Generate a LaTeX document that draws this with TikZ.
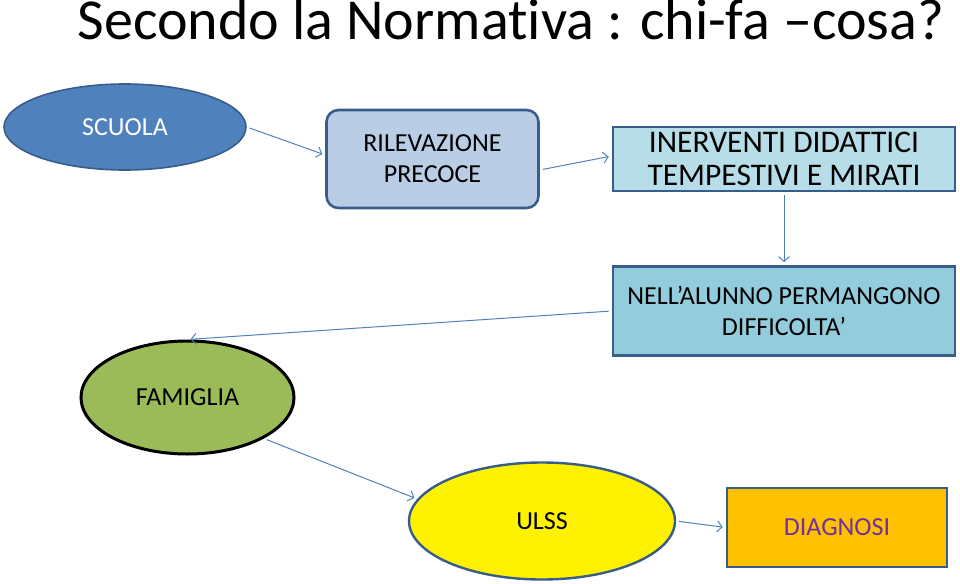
\documentclass[tikz,border=0pt]{standalone}
\usepackage{fontspec}
\setmainfont{Carlito}[Ligatures=NoCommon]
\usetikzlibrary{positioning,shapes,arrows.meta}
\definecolor{nf_dark}{HTML}{385D8A}
\definecolor{nf_blue}{HTML}{4F81BD}
\definecolor{nf_pale}{HTML}{B9CDE5}
\definecolor{nf_aqua}{HTML}{B7DEE8}
\definecolor{nf_teal}{HTML}{93CDDD}
\definecolor{nf_green}{HTML}{9BBB59}
\definecolor{nf_orange}{HTML}{FFC000}
\definecolor{nf_purple}{HTML}{7030A0}
\tikzset{
	nf_base/.style={font=\fontsize{26}{31}\selectfont, align=center, inner sep=0pt, on grid},
	nf_oval/.style={nf_base, draw=nf_dark, ellipse, line width=2.4pt},
	nf_box/.style={nf_base, draw=nf_dark, rectangle, line width=2.6pt},
	nf_line/.style={draw=nf_blue, line width=1pt, -{Straight Barb[length=5pt,width=11pt]}, shorten >=3pt, shorten <=3pt},
	nf_title/.style={font=\fontsize{58}{62}\selectfont}
}
\begin{document}
\begin{tikzpicture}[x=1pt, y=-1pt]
	\useasboundingbox (0,0) rectangle (960,583);
	\node [nf_title, anchor=base] (titolo) at (511,40) {Secondo la Normativa : chi-fa –cosa?};

	\node [nf_oval, fill=nf_blue, text=white, line width=1.6pt, minimum width=242pt, minimum height=86pt] (scuola) at (125,127) {SCUOLA};
	\node [nf_box, fill=nf_pale, rounded corners=12pt, minimum width=212pt, minimum height=98pt, below right = 32pt and 307.5pt of scuola] (rilevazione) {RILEVAZIONE\\PRECOCE};
	\node [nf_box, fill=nf_aqua, font=\fontsize{31.5}{33}\selectfont, minimum width=342pt, minimum height=64pt, right = 351.5pt of rilevazione] (interventi) {INERVENTI DIDATTICI\\TEMPESTIVI E MIRATI};
	\node [nf_box, fill=nf_teal, minimum width=342pt, minimum height=89pt, below = 152pt of interventi] (difficolta) {NELL’ALUNNO PERMANGONO\\DIFFICOLTA’};
	\node [nf_oval, fill=nf_green, draw=black, line width=3pt, minimum width=213pt, minimum height=113pt, below right = 270.5pt and 62.5pt of scuola] (famiglia) {FAMIGLIA};
	\node [nf_oval, fill=yellow, minimum width=266pt, minimum height=117pt, below right = 123.5pt and 354.5pt of famiglia] (ulss) {ULSS};
	\node [nf_box, fill=nf_orange, text=nf_purple, minimum width=220pt, minimum height=79pt, below right = 6.5pt and 295pt of ulss] (diagnosi) {DIAGNOSI};

	\path [nf_line] (scuola.east) -- ([yshift=4pt]rilevazione.west);
	\path [nf_line] ([yshift=-11pt]rilevazione.east) -- ([yshift=3pt]interventi.west);
	\path [nf_line] (interventi.south) -- (difficolta.north);
	\path [nf_line] (difficolta.west) -- (famiglia.north);
	\path [nf_line] (famiglia.south east) -- (ulss.170);
	\path [nf_line] (ulss.east) -- (diagnosi.west);
\end{tikzpicture}
\end{document}
